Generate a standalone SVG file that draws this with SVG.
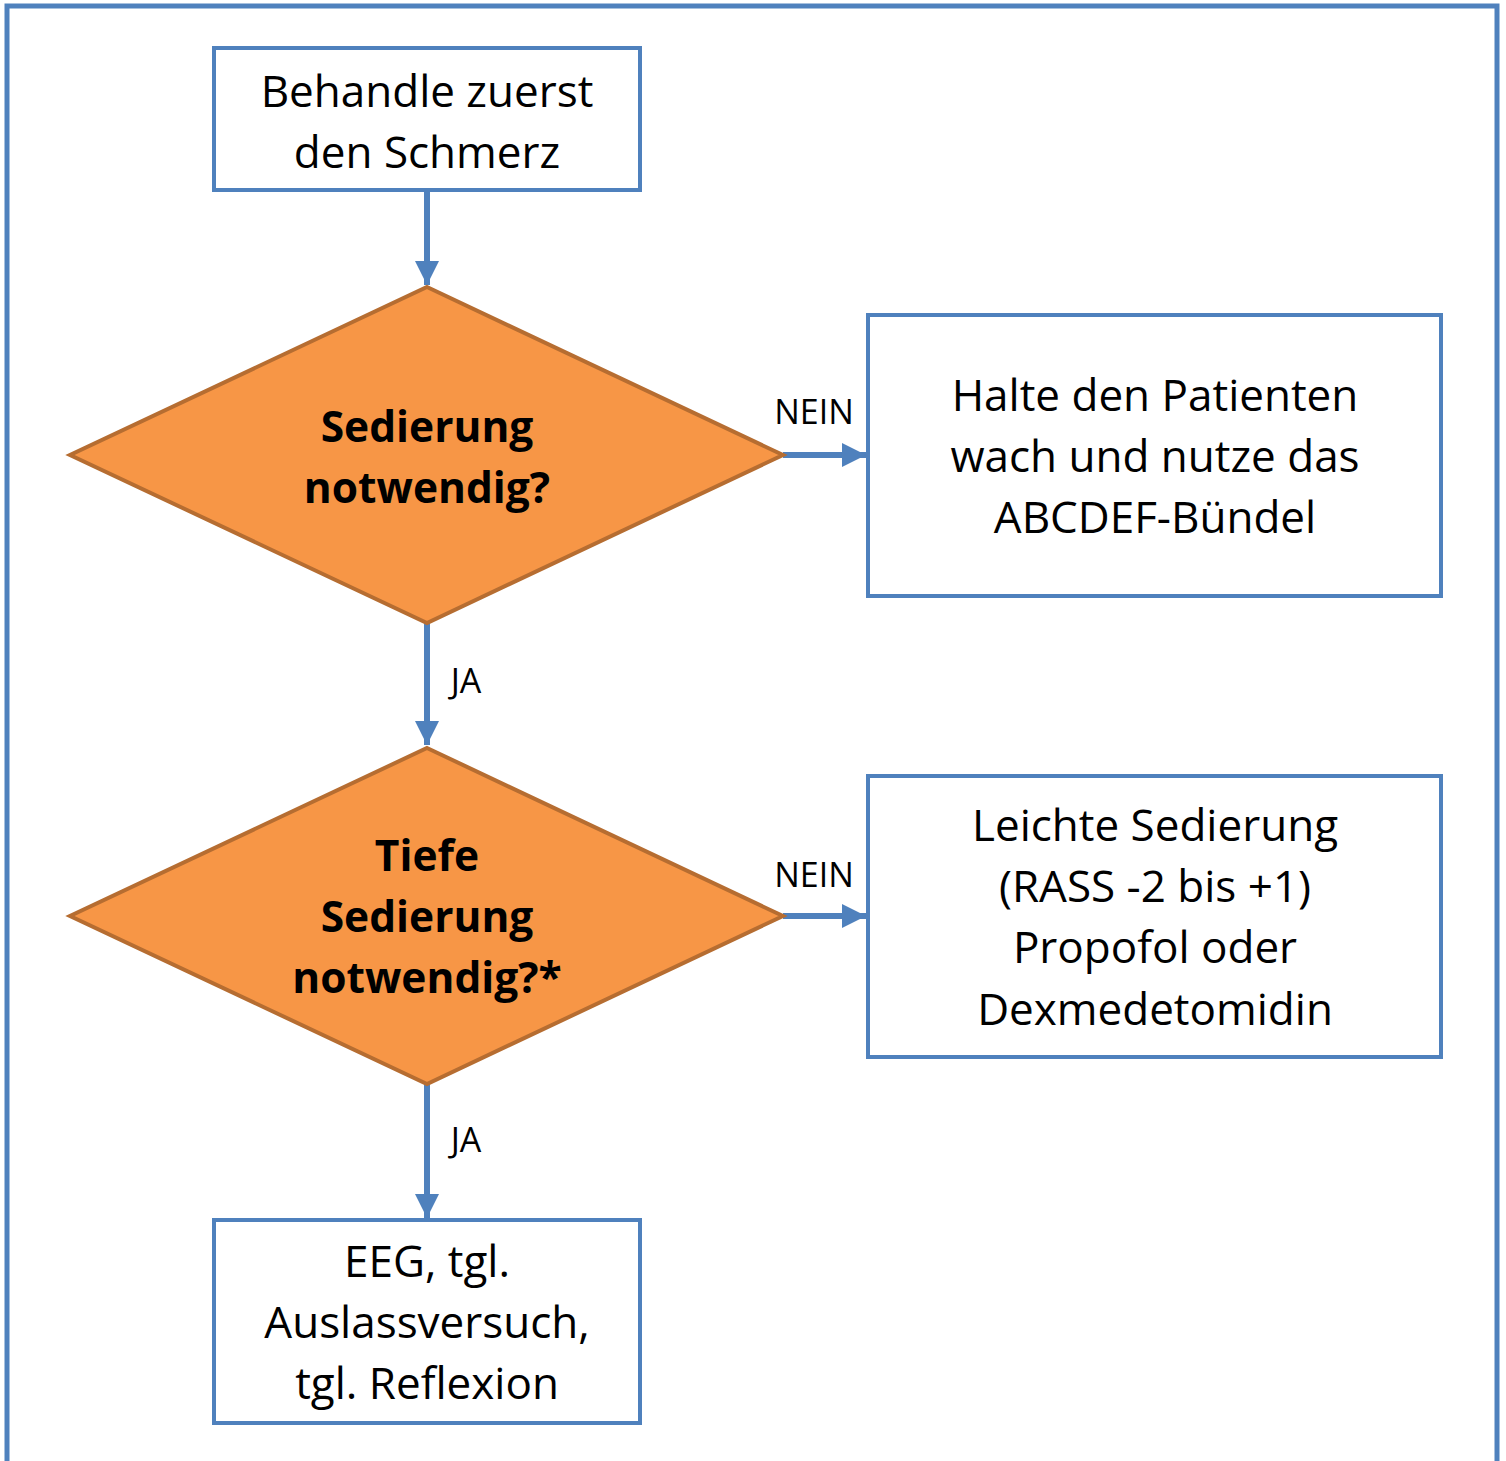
<svg xmlns="http://www.w3.org/2000/svg" width="1506" height="1461" viewBox="0 0 1506 1461">
<style>
.box{fill:#fff;stroke:#4F81BD;stroke-width:4}
.dia{fill:#F79646;stroke:#B66D31;stroke-width:4}
.t{font-family:"Open Sans","Noto Sans",sans-serif;font-size:44px;fill:#000;text-anchor:middle}
.b{font-weight:bold;font-size:42.5px}
.lbl{font-family:"Open Sans","Noto Sans",sans-serif;font-size:34px;fill:#000;text-anchor:middle}
.ln{stroke:#4F81BD;stroke-width:6;fill:none}
</style>
<defs>
<marker id="ah" viewBox="0 0 10 10" refX="10" refY="5" markerWidth="4" markerHeight="4" markerUnits="strokeWidth" orient="auto">
<path d="M0,0 L10,5 L0,10 z" fill="#4F81BD"/>
</marker>
</defs>
<rect x="7" y="6" width="1490" height="1470" fill="#fff" stroke="#4F81BD" stroke-width="5"/>
<g id="connectors">
<line class="ln" x1="427" y1="190" x2="427" y2="285" marker-end="url(#ah)"/>
<line class="ln" x1="783" y1="455" x2="866" y2="455" marker-end="url(#ah)"/>
<line class="ln" x1="427" y1="623" x2="427" y2="745" marker-end="url(#ah)"/>
<line class="ln" x1="783" y1="916" x2="866" y2="916" marker-end="url(#ah)"/>
<line class="ln" x1="427" y1="1084" x2="427" y2="1218" marker-end="url(#ah)"/>
<text class="lbl" x="814" y="424">NEIN</text>
<text class="lbl" x="814" y="887">NEIN</text>
<text class="lbl" x="466" y="693">JA</text>
<text class="lbl" x="466" y="1152">JA</text>
</g>
<g id="n1">
<rect class="box" x="214" y="48" width="426" height="142"/>
<text class="t" x="427" y="107">Behandle zuerst</text>
<text class="t" x="427" y="168">den Schmerz</text>
</g>
<g id="n2">
<polygon class="dia" points="427,287 783,455 427,623 70,455"/>
<text class="t b" x="427" y="442">Sedierung</text>
<text class="t b" x="427" y="503">notwendig?</text>
</g>
<g id="n3">
<rect class="box" x="868" y="315" width="573" height="281"/>
<text class="t" x="1155" y="411">Halte den Patienten</text>
<text class="t" x="1155" y="472">wach und nutze das</text>
<text class="t" x="1155" y="533">ABCDEF-Bündel</text>
</g>
<g id="n4">
<polygon class="dia" points="427,748 783,916 427,1084 70,916"/>
<text class="t b" x="427" y="871">Tiefe</text>
<text class="t b" x="427" y="932">Sedierung</text>
<text class="t b" x="427" y="993">notwendig?*</text>
</g>
<g id="n5">
<rect class="box" x="868" y="776" width="573" height="281"/>
<text class="t" x="1155" y="841">Leichte Sedierung</text>
<text class="t" x="1155" y="902">(RASS -2 bis +1)</text>
<text class="t" x="1155" y="963">Propofol oder</text>
<text class="t" x="1155" y="1025">Dexmedetomidin</text>
</g>
<g id="n6">
<rect class="box" x="214" y="1220" width="426" height="203"/>
<text class="t" x="427" y="1277">EEG, tgl.</text>
<text class="t" x="427" y="1338">Auslassversuch,</text>
<text class="t" x="427" y="1399">tgl. Reflexion</text>
</g>
</svg>
